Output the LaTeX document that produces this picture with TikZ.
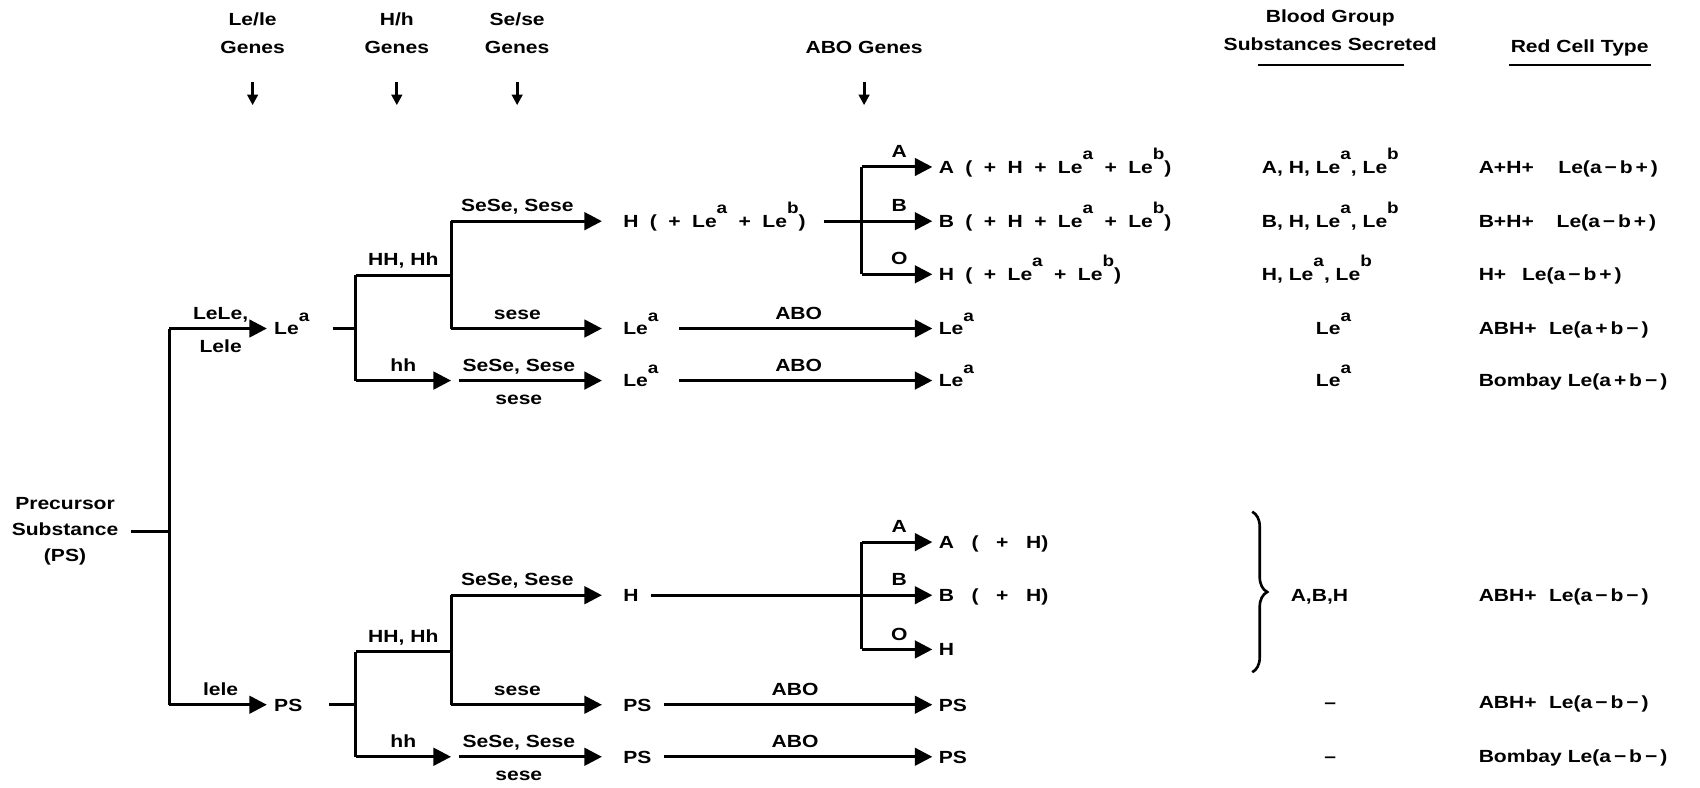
\documentclass[tikz,border=0pt]{standalone}
\usepackage{fontspec}
\setmainfont{Liberation Sans}[FakeStretch=1.2]
\usetikzlibrary{positioning, arrows.meta, decorations.pathreplacing}
\newcommand{\lsup}[1]{\raisebox{7.8pt}{\fontsize{9}{9}\selectfont #1}}
\newcommand{\gap}{\hspace{6.5pt}}
\newcommand{\wgap}{\hspace{10pt}}

\begin{document}
\begin{tikzpicture}[x=0.0217cm, y=-0.0217cm,
  txt/.style={font=\fontsize{10}{14}\selectfont\bfseries, inner sep=1pt,
              text height=7.2pt, text depth=0pt},
  res/.style={txt, anchor=west},
  hdr/.style={font=\fontsize{10}{16}\selectfont\bfseries, align=center, inner sep=1pt},
  abv/.style={txt, above=3.5pt},
  blw/.style={txt, below=4.5pt},
  ln/.style={line width=1.7pt},
  arr/.style={ln, -{Triangle[length=10pt,width=10pt]}},
  arrg/.style={arr, shorten >=11pt},
  arrs/.style={arr, shorten >=2.5pt},
  down/.style={line width=1.6pt, -{Triangle[length=6pt,width=6pt]}}
 ]
\useasboundingbox (0,0) rectangle (1568,726);

% column heads
\node[hdr] (hle)  at (233,31)  {Le/le\\Genes};
\node[hdr] (hh)   at (366,31)  {H/h\\Genes};
\node[hdr] (hse)  at (477,31)  {Se/se\\Genes};
\node[hdr] (habo) at (797,44)  {ABO Genes};
\node[hdr] (hsec) at (1227,28) {Blood Group\\Substances Secreted};
\node[hdr] (hred) at (1457,44) {Red Cell Type};
\draw[line width=1.4pt] (1160,60) -- (1295,60);
\draw[line width=1.4pt] (1392,60) -- (1523,60);
\foreach \n/\x in {le/233, h/366, se/477, abo/797} {
  \coordinate (s\n) at (\x,76);
  \coordinate (e\n) at (\x,97);
  \draw[down] (s\n) -- (e\n);
}

% precursor and Le/le split
\node[hdr, font=\fontsize{10}{14.8}\selectfont\bfseries] (ps) at (60,490) {Precursor\\Substance\\(PS)};
\coordinate (j0) at (156,490);
\coordinate (jt) at (156,303);
\coordinate (jb) at (156,650);
\draw[ln, shorten <=6pt] (ps.east) -- (j0);
\draw[ln] (jt) -- (jb);
\node[res] (lea) at (251,303) {Le\lsup{a}};
\node[res] (ps2) at (251,650) {PS};
\draw[arr, shorten >=3pt] (jt) -- node[abv]{LeLe,} node[blw]{Lele} (lea);
\draw[arr, shorten >=3pt] (jb) -- node[abv]{lele} (ps2);

% upper half: H/h and Se/se
\coordinate (k1)  at (328,303);
\coordinate (k1t) at (328,254);
\coordinate (k1b) at (328,351);
\coordinate (m1)  at (416,254);
\coordinate (m1t) at (416,204);
\coordinate (m1b) at (416,303);
\coordinate (h1)  at (416,351);
\coordinate (h1s) at (423,351);
\draw[ln, shorten <=12pt] (lea) -- (k1);
\draw[ln] (k1t) -- (k1b);
\draw[ln] (k1t) -- node[abv]{HH, Hh} (m1);
\draw[ln] (m1t) -- (m1b);
\draw[arr] (k1b) -- node[abv]{hh} (h1);
\node[res] (hab)  at (573,204) {H\gap(\gap+\gap Le\lsup{a}\gap+\gap Le\lsup{b})};
\node[res] (lea2) at (573,303) {Le\lsup{a}};
\node[res] (lea3) at (573,351) {Le\lsup{a}};
\draw[arrg] (m1t) -- node[abv, pos=0.39]{SeSe, Sese} (hab);
\draw[arrg] (m1b) -- node[abv, pos=0.39]{sese} (lea2);
\draw[arrg] (h1s) -- node[abv, pos=0.37]{SeSe, Sese} node[blw, pos=0.37]{sese} (lea3);

% upper half: ABO
\coordinate (v1)  at (795,204);
\coordinate (v1t) at (795,154);
\coordinate (v1b) at (795,253);
\draw[ln, shorten <=9pt] (hab) -- (v1);
\draw[ln] (v1t) -- (v1b);
\node[res] (ra) at (864,154) {A\gap(\gap+\gap H\gap+\gap Le\lsup{a}\gap+\gap Le\lsup{b})};
\node[res] (rb) at (864,204) {B\gap(\gap+\gap H\gap+\gap Le\lsup{a}\gap+\gap Le\lsup{b})};
\node[res] (rh) at (864,253) {H\gap(\gap+\gap Le\lsup{a}\gap+\gap Le\lsup{b})};
\draw[arrs] (v1t) -- node[abv]{A} (ra);
\draw[arrs] (v1) -- node[abv]{B} (rb);
\draw[arrs] (v1b) -- node[abv]{O} (rh);
\node[res] (rl1) at (864,303) {Le\lsup{a}};
\node[res] (rl2) at (864,351) {Le\lsup{a}};
\draw[arrs, shorten <=10.5pt] (lea2) -- node[abv]{ABO} (rl1);
\draw[arrs, shorten <=10.5pt] (lea3) -- node[abv]{ABO} (rl2);

% lower half: H/h and Se/se
\coordinate (k2)  at (328,650);
\coordinate (k2t) at (328,601);
\coordinate (k2b) at (328,698);
\coordinate (m2)  at (416,601);
\coordinate (m2t) at (416,549);
\coordinate (m2b) at (416,650);
\coordinate (h2)  at (416,698);
\coordinate (h2s) at (423,698);
\draw[ln, shorten <=14pt] (ps2) -- (k2);
\draw[ln] (k2t) -- (k2b);
\draw[ln] (k2t) -- node[abv]{HH, Hh} (m2);
\draw[ln] (m2t) -- (m2b);
\draw[arr] (k2b) -- node[abv]{hh} (h2);
\node[res] (hn)  at (573,549) {H};
\node[res] (ps3) at (573,650) {PS};
\node[res] (ps4) at (573,698) {PS};
\draw[arrg] (m2t) -- node[abv, pos=0.39]{SeSe, Sese} (hn);
\draw[arrg] (m2b) -- node[abv, pos=0.39]{sese} (ps3);
\draw[arrg] (h2s) -- node[abv, pos=0.37]{SeSe, Sese} node[blw, pos=0.37]{sese} (ps4);

% lower half: ABO
\coordinate (v2)  at (795,549);
\coordinate (v2t) at (795,500);
\coordinate (v2b) at (795,599);
\draw[ln, shorten <=6pt] (hn) -- (v2);
\draw[ln] (v2t) -- (v2b);
\node[res] (ra2) at (864,500) {A\wgap(\wgap+\wgap H)};
\node[res] (rb2) at (864,549) {B\wgap(\wgap+\wgap H)};
\node[res] (rh2) at (864,599) {H};
\draw[arrs] (v2t) -- node[abv]{A} (ra2);
\draw[arrs] (v2) -- node[abv]{B} (rb2);
\draw[arrs] (v2b) -- node[abv]{O} (rh2);
\node[res] (rp1) at (864,650) {PS};
\node[res] (rp2) at (864,698) {PS};
\draw[arrs, shorten <=6pt] (ps3) -- node[abv]{ABO} (rp1);
\draw[arrs, shorten <=6pt] (ps4) -- node[abv]{ABO} (rp2);

% substances secreted
\node[res] (sa) at (1162,154) {A, H, Le\lsup{a}, Le\lsup{b}};
\node[res] (sb) at (1162,204) {B, H, Le\lsup{a}, Le\lsup{b}};
\node[res] (sh) at (1162,253) {H, Le\lsup{a}, Le\lsup{b}};
\node[txt] (sl1) at (1230,303) {Le\lsup{a}};
\node[txt] (sl2) at (1230,351) {Le\lsup{a}};
\draw[line width=1.5pt, decorate, decoration={brace, amplitude=0.3cm}] (1155,472) -- (1155,620);
\node[txt] (sabh) at (1217,549) {A,B,H};
\node[txt] (sn1) at (1227,648) {–};
\node[txt] (sn2) at (1227,697) {–};

% red cell type
\node[res] (c1) at (1362,154) {A+H+\hspace{14pt}Le(a\,−\,b\,+\,)};
\node[res] (c2) at (1362,204) {B+H+\hspace{13pt}Le(a\,−\,b\,+\,)};
\node[res] (c3) at (1362,253) {H+\hspace{9pt}Le(a\,−\,b\,+\,)};
\node[res] (c4) at (1362,303) {ABH+\hspace{7pt}Le(a\,+\,b\,−\,)};
\node[res] (c5) at (1362,351) {Bombay Le(a\,+\,b\,−\,)};
\node[res] (c6) at (1362,549) {ABH+\hspace{7pt}Le(a\,−\,b\,−\,)};
\node[res] (c7) at (1362,648) {ABH+\hspace{7pt}Le(a\,−\,b\,−\,)};
\node[res] (c8) at (1362,697) {Bombay Le(a\,−\,b\,−\,)};
\end{tikzpicture}
\end{document}
